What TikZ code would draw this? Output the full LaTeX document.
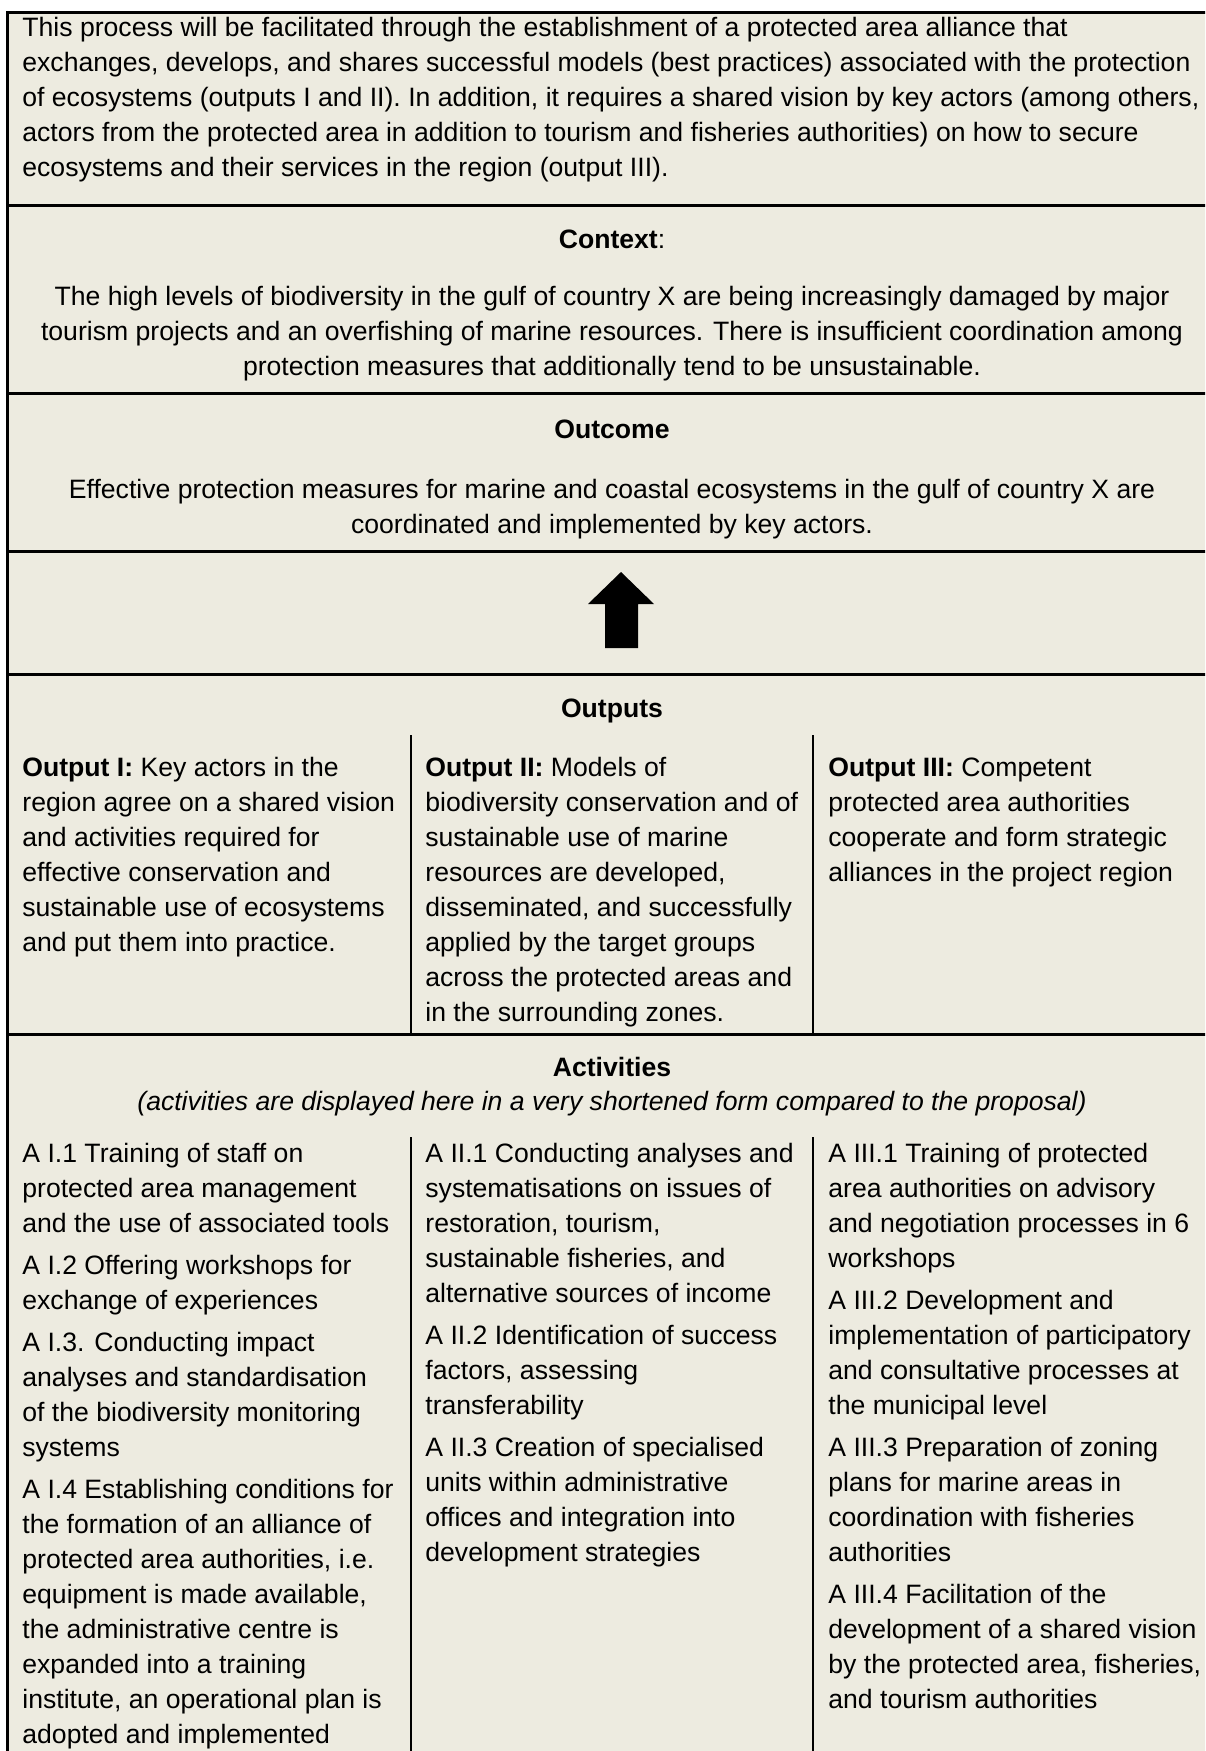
\documentclass[tikz,border=0pt]{standalone}
\usepackage{fontspec}
\setmainfont{Liberation Sans}
\definecolor{bg}{RGB}{237,235,224}
\newcommand\Lrows[1]{\vtop{\halign{##\hfil\cr#1\crcr}}}
\newcommand\Crows[1]{\vtop{\halign{\hfil##\hfil\cr#1\crcr}}}
\newcommand\gapline{\noalign{\vskip3.5pt}}
\begin{document}
\begin{tikzpicture}[x=0.5pt,y=-0.5pt,
  txt/.style={inner sep=0pt, font=\fontsize{13.3}{17.5}\selectfont},
  lt/.style={txt, anchor=base west},
  ct/.style={txt, anchor=base},
  hline/.style={line width=1.5pt},
  vline/.style={line width=1pt}]
\useasboundingbox (0,0) rectangle (1205,1751);
\clip (0,0) rectangle (1205,1751);
\fill[bg] (7,12) rectangle (1220,1770);
% frame
\draw[hline] (7,1770) -- (7,12) -- (1220,12);
\foreach \yy in {205,393,551,674,1034} \draw[hline] (7,\yy) -- (1220,\yy);
\draw[vline] (411,735) -- (411,1034);
\draw[vline] (813,735) -- (813,1034);
\draw[vline] (411,1137) -- (411,1770);
\draw[vline] (813,1137) -- (813,1770);
% top text
\node[lt] (intro) at (22,36) {\Lrows{This process will be facilitated through the establishment of a protected area alliance that\cr
exchanges, develops, and shares successful models (best practices) associated with the protection\cr
of ecosystems (outputs I and II). In addition, it requires a shared vision by key actors (among others,\cr
actors from the protected area in addition to tourism and fisheries authorities) on how to secure\cr
ecosystems and their services in the region (output III).}};
% context
\node[ct] (ctxh) at (612,248) {\textbf{Context}:};
\node[ct] (ctx) at (612,305) {\Crows{The high levels of biodiversity in the gulf of country X are being increasingly damaged by major\cr
tourism projects and an overfishing of marine resources. There is insufficient coordination among\cr
protection measures that additionally tend to be unsustainable.}};
% outcome
\node[ct] (outh) at (612,438) {\textbf{Outcome}};
\node[ct] (out) at (612,498) {\Crows{Effective protection measures for marine and coastal ecosystems in the gulf of country X are\cr
coordinated and implemented by key actors.}};
% arrow
\fill (621,572) -- (654,604) -- (638,604) -- (638,648) -- (605,648) -- (605,604) -- (588,604) -- cycle;
% outputs
\node[ct] (outsh) at (612,717) {\textbf{Outputs}};
\node[lt] (o1) at (22,776) {\Lrows{\textbf{Output I:} Key actors in the\cr
region agree on a shared vision\cr
and activities required for\cr
effective conservation and\cr
sustainable use of ecosystems\cr
and put them into practice.}};
\node[lt] (o2) at (425,776) {\Lrows{\textbf{Output II:} Models of\cr
biodiversity conservation and of\cr
sustainable use of marine\cr
resources are developed,\cr
disseminated, and successfully\cr
applied by the target groups\cr
across the protected areas and\cr
in the surrounding zones.}};
\node[lt] (o3) at (828,776) {\Lrows{\textbf{Output III:} Competent\cr
protected area authorities\cr
cooperate and form strategic\cr
alliances in the project region}};
% activities
\node[ct] (acth) at (612,1076) {\textbf{Activities}};
\node[ct] (actn) at (612,1110) {\textit{(activities are displayed here in a very shortened form compared to the proposal)}};
\node[lt] (a1) at (22,1162) {\Lrows{A I.1 Training of staff on\cr
protected area management\cr
and the use of associated tools\cr\gapline
A I.2 Offering workshops for\cr
exchange of experiences\cr\gapline
A I.3. Conducting impact\cr
analyses and standardisation\cr
of the biodiversity monitoring\cr
systems\cr\gapline
A I.4 Establishing conditions for\cr
the formation of an alliance of\cr
protected area authorities, i.e.\cr
equipment is made available,\cr
the administrative centre is\cr
expanded into a training\cr
institute, an operational plan is\cr
adopted and implemented}};
\node[lt] (a2) at (425,1162) {\Lrows{A II.1 Conducting analyses and\cr
systematisations on issues of\cr
restoration, tourism,\cr
sustainable fisheries, and\cr
alternative sources of income\cr\gapline
A II.2 Identification of success\cr
factors, assessing\cr
transferability\cr\gapline
A II.3 Creation of specialised\cr
units within administrative\cr
offices and integration into\cr
development strategies}};
\node[lt] (a3) at (828,1162) {\Lrows{A III.1 Training of protected\cr
area authorities on advisory\cr
and negotiation processes in 6\cr
workshops\cr\gapline
A III.2 Development and\cr
implementation of participatory\cr
and consultative processes at\cr
the municipal level\cr\gapline
A III.3 Preparation of zoning\cr
plans for marine areas in\cr
coordination with fisheries\cr
authorities\cr\gapline
A III.4 Facilitation of the\cr
development of a shared vision\cr
by the protected area, fisheries,\cr
and tourism authorities}};
\end{tikzpicture}
\end{document}
